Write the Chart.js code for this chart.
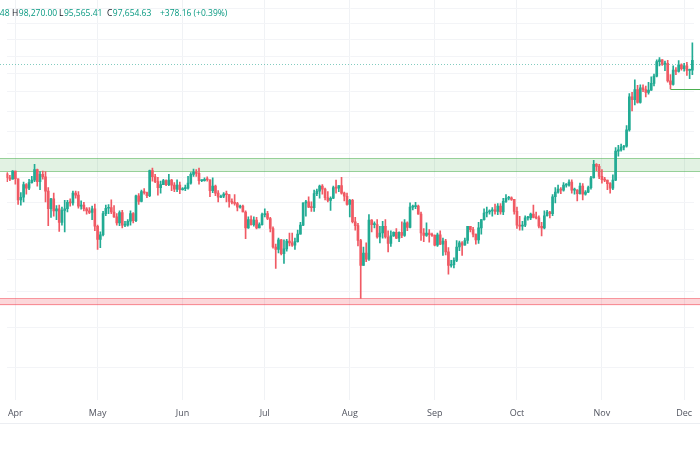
<!DOCTYPE html>
<html lang="en">
<head>
    <meta charset="UTF-8">
    <title>BTC daily</title>
    <script src="https://cdn.jsdelivr.net/npm/chart.js"></script>
    <style>
        body { margin: 0; background: #fff; }
        canvas { display: block; }
    </style>
</head>
<body>
<canvas id="graph" width="700" height="450"></canvas>
<script>
    // daily candles, 29 Mar .. 4 Dec (prices in thousands)
    let opens = [70.7,69.9,69.6,71.3,69.7,65.5,66.0,68.5,67.8,68.9,69.4,71.6,69.1,70.6,70.1,67.2,63.8,65.7,63.4,63.8,61.3,63.5,63.8,65.0,64.9,66.8,66.4,64.3,64.5,63.8,63.4,63.1,63.8,
        60.6,58.3,59.1,62.9,63.9,64.0,63.2,62.3,61.2,63.1,60.8,60.8,61.5,62.9,61.6,66.3,65.2,67.1,66.9,66.3,71.4,70.1,69.1,67.9,68.5,69.3,68.5,69.4,68.4,67.6,68.4,
        67.5,67.7,67.8,68.8,70.6,71.1,70.8,69.3,69.3,69.6,69.5,67.3,68.2,66.8,66.0,66.2,66.6,66.5,65.2,65.0,64.8,64.1,64.3,63.2,60.3,61.8,60.9,61.7,60.3,60.9,
        62.7,62.9,62.0,60.2,57.0,56.6,58.2,55.9,56.7,58.0,57.7,57.3,57.9,59.2,60.8,64.9,65.1,64.1,64.0,66.7,67.2,68.2,67.6,65.9,65.4,65.8,67.9,67.8,68.3,66.8,66.2,
        64.6,65.4,61.4,60.7,58.1,54.0,56.0,55.0,61.7,60.9,60.9,58.7,59.4,60.6,58.7,57.6,58.9,59.5,58.5,59.5,59.0,61.2,60.4,64.1,64.2,64.3,62.8,59.4,59.0,59.4,59.1,
        59.0,57.3,59.1,57.5,58.0,56.2,54.0,54.1,54.8,57.0,57.7,57.3,58.1,60.6,60.0,59.2,58.2,60.3,61.8,63.0,63.2,63.4,63.6,63.3,64.3,63.2,65.2,65.8,65.9,65.6,
        63.3,60.8,60.6,60.8,62.1,62.1,62.8,62.2,62.1,60.6,60.3,62.5,63.2,62.9,66.1,67.0,67.6,67.4,68.4,68.4,69.0,67.4,67.4,66.7,68.2,66.6,67.0,67.9,69.9,72.7,72.3,
        70.2,69.5,69.4,68.7,67.8,69.4,75.6,75.9,76.5,76.7,80.5,88.7,88.0,90.6,87.3,91.1,90.6,89.9,90.5,92.3,94.3,98.4,98.9,97.7,97.9,93.0,92.0,96.0,95.6,97.5,
        96.4,97.2,95.9,96.0];
    let highs = [71.0,70.4,71.4,71.3,69.7,66.9,69.0,68.7,69.6,70.2,72.7,71.7,71.2,71.3,71.2,67.9,65.8,66.8,64.4,64.5,64.1,65.4,65.4,65.7,67.2,67.2,67.1,65.3,65.0,64.0,64.0,64.3,64.7,
        60.8,59.6,63.3,64.5,64.6,65.5,64.4,62.9,63.4,63.5,61.5,61.8,63.4,63.1,66.4,66.7,67.4,67.7,67.0,71.5,71.9,70.6,70.0,69.2,69.6,69.5,70.6,69.6,68.9,69.5,69.0,
        67.9,68.4,70.2,71.0,71.7,71.6,71.9,69.5,69.9,70.1,69.5,69.9,68.4,67.3,66.4,66.9,67.2,66.5,65.7,66.5,65.0,64.5,64.5,63.4,62.3,62.5,62.3,62.2,61.2,63.0,
        63.8,63.3,62.2,60.5,57.5,58.5,58.3,58.2,58.3,59.4,59.4,58.5,59.9,61.3,64.9,65.4,66.1,65.1,67.4,67.6,68.4,68.5,67.8,67.1,66.1,68.2,69.4,68.3,70.0,67.0,66.8,
        65.6,65.6,62.2,61.1,58.3,57.0,57.7,62.7,61.8,61.4,61.8,60.6,61.5,61.8,59.8,59.8,59.6,60.2,59.6,61.4,61.8,61.4,64.9,64.5,65.0,64.5,63.2,60.2,61.2,60.0,59.4,
        59.1,59.4,59.8,58.5,58.3,56.9,54.8,55.2,58.1,58.0,57.9,58.5,60.6,60.6,60.4,59.2,61.3,61.8,63.8,64.1,63.6,64.0,64.7,64.8,64.8,65.8,66.5,66.2,66.1,65.6,
        64.1,62.4,61.5,62.5,62.4,63.0,64.5,63.2,62.5,61.3,63.4,63.5,63.3,66.5,67.9,68.4,67.9,68.9,68.7,69.5,69.5,67.8,67.5,68.8,68.7,67.3,68.2,70.2,73.6,72.9,72.7,
        71.6,70.0,69.4,68.9,70.5,76.4,76.9,77.2,76.9,81.5,89.6,89.9,93.3,91.8,91.9,91.9,91.6,92.6,94.1,94.9,98.9,99.6,99.0,98.6,98.8,94.7,97.2,96.7,98.7,97.8,
        97.9,98.2,96.3,104.0];
    let lows = [69.1,69.3,69.6,68.6,64.6,64.5,65.1,66.6,67.5,68.8,69.1,68.2,67.5,69.6,65.1,60.7,62.2,62.4,61.8,59.7,60.8,59.6,63.2,64.3,64.5,65.8,63.9,63.7,63.4,62.8,62.9,61.8,59.8,
        56.6,56.9,58.9,62.5,62.9,62.9,62.2,60.8,60.7,60.3,60.5,60.6,60.8,61.2,61.4,64.6,65.1,66.6,65.9,66.1,69.2,68.9,66.4,66.8,68.5,68.3,68.3,67.3,67.1,67.1,66.7,
        67.4,67.3,67.6,68.6,70.2,70.2,68.6,69.1,69.2,69.2,66.1,66.9,66.3,65.1,65.9,65.9,65.1,64.1,64.7,64.5,63.4,63.9,63.2,58.4,60.2,60.8,60.6,60.1,60.3,60.8,
        62.3,61.8,59.6,56.8,53.5,56.0,55.7,54.3,56.3,57.2,57.1,56.6,57.8,59.2,60.7,62.4,64.0,63.3,63.3,66.3,65.8,66.6,65.5,65.1,63.5,65.7,66.8,67.1,66.6,65.3,64.5,
        62.3,61.2,59.9,57.2,49.0,54.0,54.6,54.8,59.6,60.3,58.5,57.7,58.5,58.5,56.2,57.1,58.8,58.4,57.9,58.6,58.8,59.8,60.3,63.6,63.8,62.8,58.1,57.9,58.8,57.8,58.8,
        57.2,57.1,57.4,55.6,55.7,52.6,53.7,53.6,54.6,56.4,55.6,57.3,57.6,59.6,58.7,57.5,57.6,59.2,61.7,62.3,62.8,62.4,62.8,62.7,62.8,62.7,65.0,65.5,65.4,62.8,
        60.2,59.9,59.9,60.5,61.7,61.8,62.1,61.9,60.3,58.9,60.1,62.4,62.1,62.5,64.9,66.8,66.7,67.2,68.0,68.2,66.8,66.6,65.3,66.6,65.5,66.4,66.9,67.6,69.8,71.4,69.7,
        68.8,69.1,67.5,66.8,67.5,69.3,74.5,75.6,75.9,76.5,80.2,85.1,86.6,87.1,87.1,90.1,88.7,89.4,90.4,91.6,94.1,97.2,97.3,95.8,92.6,90.8,91.8,94.7,95.4,96.0,
        95.7,94.5,93.6,94.7];
    let closes = [69.9,69.6,71.3,69.7,65.5,66.0,68.5,67.8,68.9,69.4,71.6,69.1,70.6,70.1,67.2,63.8,65.7,63.4,63.8,61.3,63.5,63.8,65.0,64.9,66.8,66.4,64.3,64.5,63.8,63.4,63.1,63.8,60.6,
        58.3,59.1,62.9,63.9,64.0,63.2,62.3,61.2,63.1,60.8,60.8,61.5,62.9,61.6,66.3,65.2,67.1,66.9,66.3,71.4,70.1,69.1,67.9,68.5,69.3,68.5,69.4,68.4,67.6,68.4,67.5,
        67.7,67.8,68.8,70.6,71.1,70.8,69.3,69.3,69.6,69.5,67.3,68.2,66.8,66.0,66.2,66.6,66.5,65.2,65.0,64.8,64.1,64.3,63.2,60.3,61.8,60.9,61.7,60.3,60.9,62.7,
        62.9,62.0,60.2,57.0,56.6,58.2,55.9,56.7,58.0,57.7,57.3,57.9,59.2,60.8,64.9,65.1,64.1,64.0,66.7,67.2,68.2,67.6,65.9,65.4,65.8,67.9,67.8,68.3,66.8,66.2,64.6,
        65.4,61.4,60.7,58.1,54.0,56.0,55.0,61.7,60.9,60.9,58.7,59.4,60.6,58.7,57.6,58.9,59.5,58.5,59.5,59.0,61.2,60.4,64.1,64.2,64.3,62.8,59.4,59.0,59.4,59.1,59.0,
        57.3,59.1,57.5,58.0,56.2,54.0,54.1,54.8,57.0,57.7,57.3,58.1,60.6,60.0,59.2,58.2,60.3,61.8,63.0,63.2,63.4,63.6,63.3,64.3,63.2,65.2,65.8,65.9,65.6,63.3,
        60.8,60.6,60.8,62.1,62.1,62.8,62.2,62.1,60.6,60.3,62.5,63.2,62.9,66.1,67.0,67.6,67.4,68.4,68.4,69.0,67.4,67.4,66.7,68.2,66.6,67.0,67.9,69.9,72.7,72.3,70.2,
        69.5,69.4,68.7,67.8,69.4,75.6,75.9,76.5,76.7,80.5,88.7,88.0,90.6,87.3,91.1,90.6,89.9,90.5,92.3,94.3,98.4,98.9,97.7,97.9,93.0,92.0,96.0,95.6,97.5,96.4,
        97.2,95.9,96.0,98.8];

    let monthTicks = [3, 33, 64, 94, 125, 156, 186, 217, 247];
    let monthLabels = ['Apr', 'May', 'Jun', 'Jul', 'Aug', 'Sep', 'Oct', 'Nov', 'Dec'];
    let priceGrid = [40, 45, 50, 55, 60, 65, 70, 75, 80, 85, 90, 95, 100, 105, 110, 115];

    let greenZone = [71.2, 74.0];
    let redZone = [48.0, 49.0];
    let supportLevel = 90.8, supportFrom = 242;

    let headerKeys = ['O', 'H', 'L', 'C'];
    let headerValues = ['97,276.48', '98,270.00', '95,565.41', '97,654.63'];
    let headerChange = '+378.16 (+0.39%)';
    let lastPrice = 97.65463;

    const UP = '#22ab94', DOWN = '#f05a64';
    let colors = closes.map((c, i) => c >= opens[i] ? UP : DOWN);

    let zonesPlugin = {
        id: 'zones',
        beforeDatasetsDraw(chart) {
            let ctx = chart.ctx, y = chart.scales.y, x = chart.scales.x;
            ctx.save();
            let band = (lvl, fill, edge) => {
                let y1 = y.getPixelForValue(lvl[1]), y2 = y.getPixelForValue(lvl[0]);
                ctx.fillStyle = fill;
                ctx.fillRect(0, y1, chart.width, y2 - y1);
                ctx.strokeStyle = edge;
                ctx.lineWidth = 1;
                ctx.beginPath();
                ctx.moveTo(0, Math.round(y1) + 0.5); ctx.lineTo(chart.width, Math.round(y1) + 0.5);
                ctx.moveTo(0, Math.round(y2) - 0.5); ctx.lineTo(chart.width, Math.round(y2) - 0.5);
                ctx.stroke();
            };
            band(greenZone, 'rgba(76,175,80,0.16)', 'rgba(76,175,80,0.55)');
            band(redZone, 'rgba(242,54,69,0.2)', 'rgba(242,54,69,0.45)');

            // last price line
            let py = Math.round(y.getPixelForValue(lastPrice)) + 0.5;
            ctx.strokeStyle = 'rgba(8,153,129,0.5)';
            ctx.setLineDash([1, 2]);
            ctx.beginPath();
            ctx.moveTo(0, py); ctx.lineTo(chart.width, py);
            ctx.stroke();
            ctx.setLineDash([]);

            // support segment
            let sy = Math.round(y.getPixelForValue(supportLevel)) + 0.5;
            ctx.strokeStyle = '#4caf50';
            ctx.beginPath();
            ctx.moveTo(x.getPixelForValue(supportFrom), sy); ctx.lineTo(chart.width, sy);
            ctx.stroke();

            // time axis bottom line
            ctx.strokeStyle = '#eceef2';
            ctx.beginPath();
            ctx.moveTo(0, 423.5); ctx.lineTo(chart.width, 423.5);
            ctx.stroke();
            ctx.restore();
        },
        afterDraw(chart) {
            let ctx = chart.ctx;
            ctx.save();
            ctx.font = '8.5px "Open Sans", sans-serif';
            ctx.textBaseline = 'middle';
            let starts = [9, 12, 59, 107];
            headerKeys.forEach((k, i) => {
                let w = ctx.measureText(k).width;
                let px = i === 0 ? starts[0] - w - ctx.measureText(headerValues[0]).width : starts[i];
                ctx.fillStyle = '#131722';
                ctx.fillText(k, px, 14);
                ctx.fillStyle = '#089981';
                ctx.fillText(headerValues[i], px + w + 0.5, 14);
            });
            ctx.fillText(headerChange, 160, 14);
            ctx.restore();
        }
    };

    let days = closes.map((c, i) => i);

    new Chart(document.getElementById('graph'), {
        type: 'bar',
        data: {
            datasets: [
                {
                    label: 'wick',
                    data: days.map(i => ({x: i, y: [lows[i], highs[i]]})),
                    backgroundColor: colors,
                    barThickness: 1,
                    grouped: false,
                },
                {
                    label: 'body',
                    data: days.map(i => ({x: i, y: [opens[i], closes[i]]})),
                    backgroundColor: colors,
                    barThickness: 2,
                    minBarLength: 1,
                    grouped: false,
                },
            ],
        },
        options: {
            responsive: false,
            animation: false,
            layout: {padding: {left: 0, right: 0, top: 0, bottom: 23}},
            plugins: {
                legend: {display: false},
                tooltip: {enabled: false},
            },
            scales: {
                x: {
                    type: 'linear',
                    min: -0.23,
                    max: 250.6,
                    offset: false,
                    afterBuildTicks: s => { s.ticks = monthTicks.map(v => ({value: v})); },
                    ticks: {
                        autoSkip: false,
                        maxRotation: 0,
                        padding: 8,
                        color: '#50535e',
                        font: {family: 'Open Sans', size: 9},
                        callback: (v) => monthLabels[monthTicks.indexOf(v)],
                    },
                    grid: {color: '#f0f2f5', drawTicks: false, offset: false},
                    border: {display: false},
                },
                y: {
                    type: 'logarithmic',
                    min: 36.3,
                    max: 118,
                    afterBuildTicks: s => { s.ticks = priceGrid.map(v => ({value: v})); },
                    ticks: {display: false},
                    grid: {color: '#f3f4f7', drawTicks: false},
                    border: {display: false},
                },
            },
        },
        plugins: [zonesPlugin],
    });
</script>
</body>
</html>
